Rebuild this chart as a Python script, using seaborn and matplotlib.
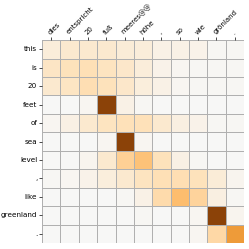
import numpy as np
import pandas as pd
import matplotlib
matplotlib.use("Agg")
import matplotlib.pyplot as plt
import seaborn as sns

src_tokens = ["dies", "entspricht", "20", "fuß", "meeres@@", "höhe", ",", "so", "wie", "grönland", "."]
tgt_tokens = ["this", "is", "20", "feet", "of", "sea", "level", ",", "like", "greenland", "."]

# attention weights, one row per target token
attn_this = [0.09, 0.12, 0.12, 0.12, 0.10, 0.09, 0.05, 0.05, 0.04, 0.01, 0.01]
attn_is = [0.15, 0.18, 0.20, 0.17, 0.14, 0.09, 0.04, 0.02, 0.01, 0.01, 0.01]
attn_20 = [0.12, 0.16, 0.21, 0.18, 0.14, 0.08, 0.05, 0.02, 0.01, 0.01, 0.01]
attn_feet = [0.00, 0.00, 0.02, 0.95, 0.05, 0.01, 0.00, 0.00, 0.00, 0.00, 0.00]
attn_of = [0.02, 0.06, 0.12, 0.17, 0.19, 0.19, 0.12, 0.07, 0.04, 0.01, 0.01]
attn_sea = [0.00, 0.00, 0.00, 0.02, 0.95, 0.02, 0.00, 0.00, 0.00, 0.00, 0.00]
attn_level = [0.00, 0.00, 0.03, 0.12, 0.28, 0.35, 0.18, 0.06, 0.01, 0.00, 0.00]
attn_comma = [0.01, 0.02, 0.04, 0.08, 0.12, 0.17, 0.20, 0.21, 0.18, 0.10, 0.03]
attn_like = [0.00, 0.00, 0.00, 0.00, 0.01, 0.05, 0.22, 0.37, 0.26, 0.07, 0.01]
attn_greenland = [0.00, 0.00, 0.00, 0.00, 0.00, 0.01, 0.00, 0.00, 0.02, 0.95, 0.03]
attn_period = [0.00, 0.00, 0.00, 0.00, 0.00, 0.00, 0.00, 0.00, 0.02, 0.24, 0.50]

rows = [attn_this, attn_is, attn_20, attn_feet, attn_of, attn_sea, attn_level,
        attn_comma, attn_like, attn_greenland, attn_period]
df = pd.DataFrame(rows, index=tgt_tokens, columns=src_tokens)

fig = plt.figure(figsize=(2.49, 2.49), dpi=100)
ax = fig.add_axes([0.169, 0.024, 0.811, 0.815])

sns.heatmap(df, cmap="PuOr_r", vmin=-1, vmax=1, cbar=False,
            linewidths=0.6, linecolor="#b0b0b0", ax=ax)

ax.xaxis.tick_top()
ax.set_xticklabels(src_tokens, rotation=45, ha="left", rotation_mode="anchor", fontsize=5)
ax.set_yticklabels(tgt_tokens, rotation=0, fontsize=5.2)
ax.tick_params(length=2, width=0.5, pad=1.5)
ax.set_xlabel("")
ax.set_ylabel("")

plt.savefig("out.png", dpi=100)
